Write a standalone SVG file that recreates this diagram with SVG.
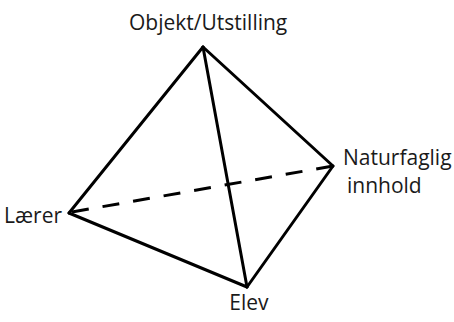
<svg xmlns="http://www.w3.org/2000/svg" width="454" height="322" viewBox="0 0 454 322">
<style>
.e{stroke:#000;stroke-width:3;fill:none;stroke-linecap:round;stroke-linejoin:round}
.d{stroke-dasharray:17 14;stroke-linecap:butt}
text{font-family:"Open Sans","Liberation Sans",sans-serif;font-size:21px;fill:#1a1a1a}
</style>
<rect width="454" height="322" fill="#fff"/>
<g id="connectors">
<line class="e" x1="203" y1="47" x2="69" y2="213"/>
<line class="e" x1="203" y1="47" x2="333" y2="166"/>
<line class="e" x1="203" y1="47" x2="247" y2="287"/>
<line class="e" x1="69" y1="213" x2="247" y2="287"/>
<line class="e" x1="333" y1="166" x2="247" y2="287"/>
<line class="e d" x1="72" y1="212" x2="333" y2="166"/>
</g>
<g id="objekt"><text x="129" y="30">Objekt/Utstilling</text></g>
<g id="naturfaglig"><text x="343" y="165">Naturfaglig</text><text x="347" y="193">innhold</text></g>
<g id="laerer"><text x="4" y="223">Lærer</text></g>
<g id="elev"><text x="249" y="310" text-anchor="middle">Elev</text></g>
</svg>
